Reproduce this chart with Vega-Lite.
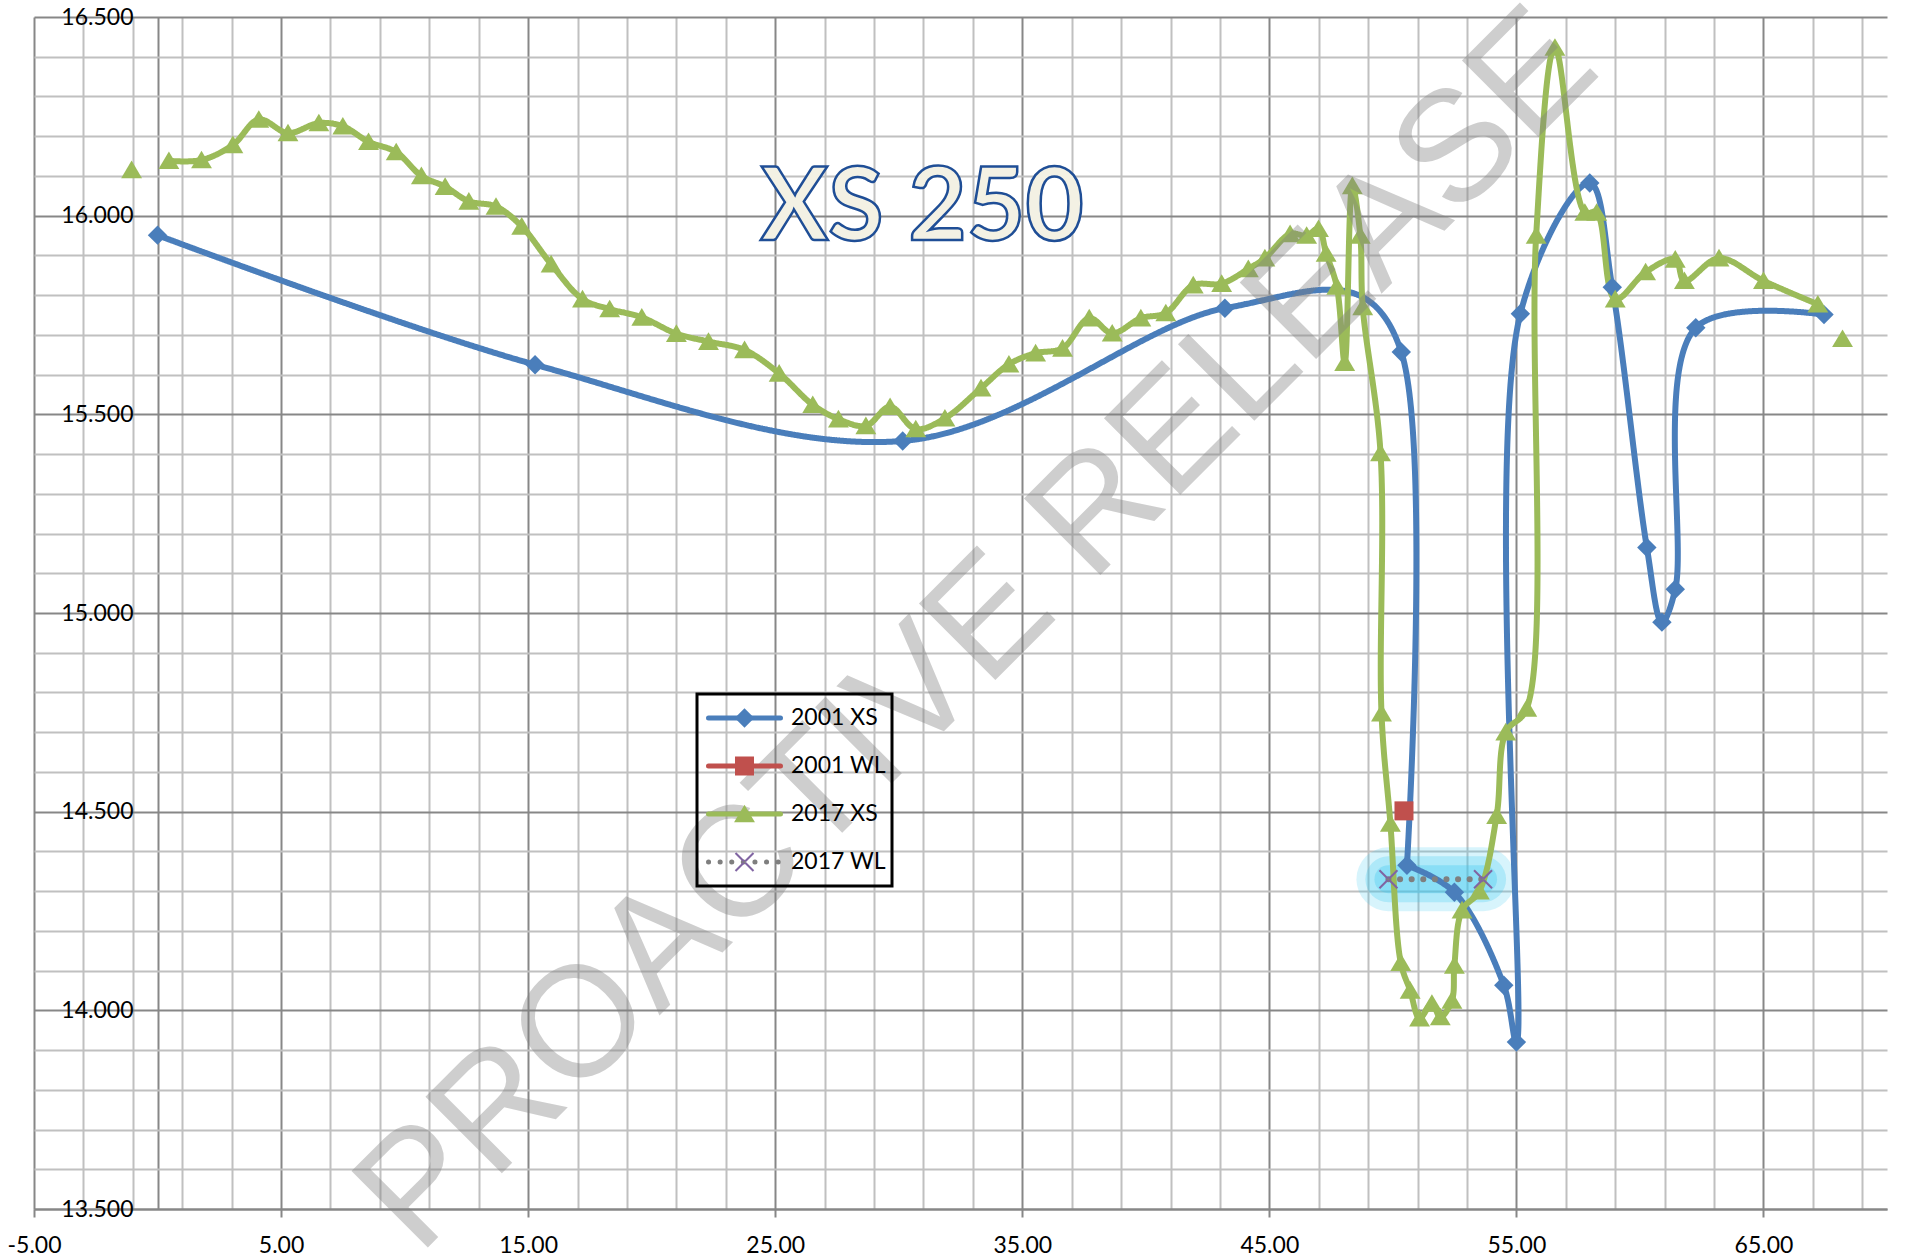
{
  "$schema": "https://vega.github.io/schema/vega-lite/v6.json",
  "width": 1853,
  "height": 1192,
  "autosize": {"type": "none"},
  "padding": {"left": 34, "top": 17, "right": 38, "bottom": 51},
  "background": "white",
  "config": {
    "view": {"stroke": null},
    "legend": {"strokeWidth": 3},
    "axis": {"labelFont": "Lato", "labelFontSize": 23, "labelColor": "black"}
  },
  "datasets": {
    "pts": [
      {"series": "2001 XS", "i": 0, "x": 0, "y": 15.951, "seg": "m"},
      {"series": "2001 XS", "i": 1, "x": 15.28, "y": 15.625, "seg": "m"},
      {"series": "2001 XS", "i": 2, "x": 30.16, "y": 15.433, "seg": "m"},
      {"series": "2001 XS", "i": 3, "x": 43.2, "y": 15.767, "seg": "m"},
      {"series": "2001 XS", "i": 4, "x": 50.34, "y": 15.657, "seg": "m"},
      {"series": "2001 XS", "i": 5, "x": 50.57, "y": 14.365, "seg": "m"},
      {"series": "2001 XS", "i": 6, "x": 52.49, "y": 14.297, "seg": "m"},
      {"series": "2001 XS", "i": 7, "x": 54.49, "y": 14.063, "seg": "m"},
      {"series": "2001 XS", "i": 8, "x": 55.0, "y": 13.92, "seg": "m"},
      {"series": "2001 XS", "i": 9, "x": 55.16, "y": 15.753, "seg": "m"},
      {"series": "2001 XS", "i": 10, "x": 57.97, "y": 16.082, "seg": "m"},
      {"series": "2001 XS", "i": 11, "x": 58.88, "y": 15.82, "seg": "m"},
      {"series": "2001 XS", "i": 12, "x": 60.28, "y": 15.165, "seg": "m"},
      {"series": "2001 XS", "i": 13, "x": 60.89, "y": 14.977, "seg": "m"},
      {"series": "2001 XS", "i": 14, "x": 61.43, "y": 15.06, "seg": "m"},
      {"series": "2001 XS", "i": 15, "x": 62.26, "y": 15.718, "seg": "m"},
      {"series": "2001 XS", "i": 16, "x": 67.45, "y": 15.751, "seg": "m"},
      {"series": "2001 WL", "i": 0, "x": 50.45, "y": 14.502, "seg": "iso"},
      {"series": "2017 XS", "i": 0, "x": -1.05, "y": 16.115, "seg": "iso"},
      {"series": "2017 XS", "i": 1, "x": 0.46, "y": 16.138, "seg": "m"},
      {"series": "2017 XS", "i": 2, "x": 1.78, "y": 16.14, "seg": "m"},
      {"series": "2017 XS", "i": 3, "x": 3.05, "y": 16.178, "seg": "m"},
      {"series": "2017 XS", "i": 4, "x": 4.1, "y": 16.242, "seg": "m"},
      {"series": "2017 XS", "i": 5, "x": 5.28, "y": 16.208, "seg": "m"},
      {"series": "2017 XS", "i": 6, "x": 6.53, "y": 16.233, "seg": "m"},
      {"series": "2017 XS", "i": 7, "x": 7.5, "y": 16.225, "seg": "m"},
      {"series": "2017 XS", "i": 8, "x": 8.54, "y": 16.186, "seg": "m"},
      {"series": "2017 XS", "i": 9, "x": 9.66, "y": 16.16, "seg": "m"},
      {"series": "2017 XS", "i": 10, "x": 10.68, "y": 16.1, "seg": "m"},
      {"series": "2017 XS", "i": 11, "x": 11.64, "y": 16.073, "seg": "m"},
      {"series": "2017 XS", "i": 12, "x": 12.6, "y": 16.036, "seg": "m"},
      {"series": "2017 XS", "i": 13, "x": 13.7, "y": 16.023, "seg": "m"},
      {"series": "2017 XS", "i": 14, "x": 14.74, "y": 15.973, "seg": "m"},
      {"series": "2017 XS", "i": 15, "x": 15.93, "y": 15.878, "seg": "m"},
      {"series": "2017 XS", "i": 16, "x": 17.2, "y": 15.79, "seg": "m"},
      {"series": "2017 XS", "i": 17, "x": 18.3, "y": 15.765, "seg": "m"},
      {"series": "2017 XS", "i": 18, "x": 19.6, "y": 15.744, "seg": "m"},
      {"series": "2017 XS", "i": 19, "x": 21.0, "y": 15.703, "seg": "m"},
      {"series": "2017 XS", "i": 20, "x": 22.3, "y": 15.683, "seg": "m"},
      {"series": "2017 XS", "i": 21, "x": 23.76, "y": 15.662, "seg": "m"},
      {"series": "2017 XS", "i": 22, "x": 25.16, "y": 15.603, "seg": "m"},
      {"series": "2017 XS", "i": 23, "x": 26.52, "y": 15.524, "seg": "m"},
      {"series": "2017 XS", "i": 24, "x": 27.56, "y": 15.488, "seg": "m"},
      {"series": "2017 XS", "i": 25, "x": 28.67, "y": 15.471, "seg": "m"},
      {"series": "2017 XS", "i": 26, "x": 29.65, "y": 15.519, "seg": "m"},
      {"series": "2017 XS", "i": 27, "x": 30.69, "y": 15.463, "seg": "m"},
      {"series": "2017 XS", "i": 28, "x": 31.87, "y": 15.49, "seg": "m"},
      {"series": "2017 XS", "i": 29, "x": 33.33, "y": 15.566, "seg": "m"},
      {"series": "2017 XS", "i": 30, "x": 34.46, "y": 15.626, "seg": "m"},
      {"series": "2017 XS", "i": 31, "x": 35.54, "y": 15.654, "seg": "m"},
      {"series": "2017 XS", "i": 32, "x": 36.63, "y": 15.666, "seg": "m"},
      {"series": "2017 XS", "i": 33, "x": 37.71, "y": 15.742, "seg": "m"},
      {"series": "2017 XS", "i": 34, "x": 38.64, "y": 15.704, "seg": "m"},
      {"series": "2017 XS", "i": 35, "x": 39.8, "y": 15.742, "seg": "m"},
      {"series": "2017 XS", "i": 36, "x": 40.81, "y": 15.755, "seg": "m"},
      {"series": "2017 XS", "i": 37, "x": 41.92, "y": 15.825, "seg": "m"},
      {"series": "2017 XS", "i": 38, "x": 43.07, "y": 15.829, "seg": "m"},
      {"series": "2017 XS", "i": 39, "x": 44.15, "y": 15.866, "seg": "m"},
      {"series": "2017 XS", "i": 40, "x": 44.82, "y": 15.893, "seg": "m"},
      {"series": "2017 XS", "i": 41, "x": 45.84, "y": 15.954, "seg": "m"},
      {"series": "2017 XS", "i": 42, "x": 46.51, "y": 15.95, "seg": "m"},
      {"series": "2017 XS", "i": 43, "x": 46.99, "y": 15.967, "seg": "m"},
      {"series": "2017 XS", "i": 44, "x": 47.3, "y": 15.905, "seg": "m"},
      {"series": "2017 XS", "i": 45, "x": 47.73, "y": 15.822, "seg": "m"},
      {"series": "2017 XS", "i": 46, "x": 48.05, "y": 15.63, "seg": "m"},
      {"series": "2017 XS", "i": 47, "x": 48.36, "y": 16.075, "seg": "m"},
      {"series": "2017 XS", "i": 48, "x": 48.68, "y": 15.95, "seg": "m"},
      {"series": "2017 XS", "i": 49, "x": 48.78, "y": 15.77, "seg": "m"},
      {"series": "2017 XS", "i": 50, "x": 49.5, "y": 15.403, "seg": "m"},
      {"series": "2017 XS", "i": 51, "x": 49.54, "y": 14.748, "seg": "m"},
      {"series": "2017 XS", "i": 52, "x": 49.9, "y": 14.47, "seg": "m"},
      {"series": "2017 XS", "i": 53, "x": 50.32, "y": 14.12, "seg": "m"},
      {"series": "2017 XS", "i": 54, "x": 50.7, "y": 14.05, "seg": "m"},
      {"series": "2017 XS", "i": 55, "x": 51.08, "y": 13.98, "seg": "m"},
      {"series": "2017 XS", "i": 56, "x": 51.58, "y": 14.017, "seg": "m"},
      {"series": "2017 XS", "i": 57, "x": 51.92, "y": 13.983, "seg": "m"},
      {"series": "2017 XS", "i": 58, "x": 52.39, "y": 14.025, "seg": "m"},
      {"series": "2017 XS", "i": 59, "x": 52.49, "y": 14.113, "seg": "m"},
      {"series": "2017 XS", "i": 60, "x": 52.8, "y": 14.252, "seg": "m"},
      {"series": "2017 XS", "i": 61, "x": 53.5, "y": 14.3, "seg": "m"},
      {"series": "2017 XS", "i": 62, "x": 54.2, "y": 14.49, "seg": "m"},
      {"series": "2017 XS", "i": 63, "x": 54.57, "y": 14.7, "seg": "m"},
      {"series": "2017 XS", "i": 64, "x": 55.42, "y": 14.76, "seg": "m"},
      {"series": "2017 XS", "i": 65, "x": 55.8, "y": 15.95, "seg": "m"},
      {"series": "2017 XS", "i": 66, "x": 56.56, "y": 16.423, "seg": "m"},
      {"series": "2017 XS", "i": 67, "x": 57.77, "y": 16.008, "seg": "m"},
      {"series": "2017 XS", "i": 68, "x": 58.25, "y": 16.008, "seg": "m"},
      {"series": "2017 XS", "i": 69, "x": 59.0, "y": 15.79, "seg": "m"},
      {"series": "2017 XS", "i": 70, "x": 60.23, "y": 15.858, "seg": "m"},
      {"series": "2017 XS", "i": 71, "x": 61.43, "y": 15.89, "seg": "m"},
      {"series": "2017 XS", "i": 72, "x": 61.8, "y": 15.836, "seg": "m"},
      {"series": "2017 XS", "i": 73, "x": 63.2, "y": 15.893, "seg": "m"},
      {"series": "2017 XS", "i": 74, "x": 65.0, "y": 15.836, "seg": "m"},
      {"series": "2017 XS", "i": 75, "x": 67.2, "y": 15.777, "seg": "m"},
      {"series": "2017 XS", "i": 76, "x": 68.2, "y": 15.69, "seg": "iso"},
      {"series": "2017 WL", "i": 0, "x": 49.82, "y": 14.33, "seg": "m"},
      {"series": "2017 WL", "i": 1, "x": 53.65, "y": 14.33, "seg": "m"}
    ]
  },
  "layer": [
    {
      "data": {"name": "pts"},
      "encoding": {
        "x": {
          "field": "x", "type": "quantitative",
          "scale": {"domain": [-5, 70], "nice": false, "zero": false},
          "axis": {
            "title": null,
            "values": [-5, -3, -1, 0, 1, 3, 5, 7, 9, 11, 13, 15, 17, 19, 21, 23, 25, 27, 29, 31, 33, 35, 37, 39, 41, 43, 45, 47, 49, 51, 53, 55, 57, 59, 61, 63, 65, 67, 69],
            "domain": true, "domainColor": "#878787", "domainWidth": 2,
            "ticks": true, "tickSize": 8, "tickWidth": 2,
            "tickColor": {"condition": {"test": "abs((datum.value+5)%10)<0.01", "value": "#878787"}, "value": "transparent"},
            "grid": true, "gridWidth": 2,
            "gridColor": {"condition": {"test": "abs((datum.value+5)%10)<0.01 || datum.value==0", "value": "#878787"}, "value": "#c0c0c0"},
            "labelExpr": "abs((datum.value+5)%10)<0.01 ? (datum.value<0?'-':'') + format(abs(datum.value),'.2f') : ''",
            "labelPadding": 17, "labelFlush": false, "labelOverlap": false
          }
        },
        "y": {
          "field": "y", "type": "quantitative",
          "scale": {"domain": [13.5, 16.5], "nice": false, "zero": false},
          "axis": {
            "title": null,
            "values": [13.5, 13.6, 13.7, 13.8, 13.9, 14.0, 14.1, 14.2, 14.3, 14.4, 14.5, 14.6, 14.7, 14.8, 14.9, 15.0, 15.1, 15.2, 15.3, 15.4, 15.5, 15.6, 15.7, 15.8, 15.9, 16.0, 16.1, 16.2, 16.3, 16.4, 16.5],
            "domain": false, "ticks": false,
            "grid": true, "gridWidth": 2,
            "gridColor": {"condition": {"test": "abs(datum.value*2-round(datum.value*2))<0.01", "value": "#878787"}, "value": "#c0c0c0"},
            "labelExpr": "abs(datum.value*2-round(datum.value*2))<0.01 ? format(datum.value,'.3f') : ''",
            "labelPadding": -99, "labelFlush": false, "labelOverlap": false, "labelBaseline": "middle"
          }
        }
      },
      "layer": [
        {
          "transform": [{"filter": "datum.series == '2017 WL'"}],
          "mark": {"type": "line", "stroke": "#35c6ef", "strokeWidth": 64, "strokeCap": "round", "opacity": 0.2},
          "encoding": {"order": {"field": "i", "type": "quantitative"}}
        },
        {
          "transform": [{"filter": "datum.series == '2017 WL'"}],
          "mark": {"type": "line", "stroke": "#35c6ef", "strokeWidth": 46, "strokeCap": "round", "opacity": 0.25},
          "encoding": {"order": {"field": "i", "type": "quantitative"}}
        },
        {
          "transform": [{"filter": "datum.series == '2017 WL'"}],
          "mark": {"type": "line", "stroke": "#35c6ef", "strokeWidth": 28, "strokeCap": "round", "opacity": 0.3},
          "encoding": {"order": {"field": "i", "type": "quantitative"}}
        },
        {
          "transform": [{"filter": "datum.series == '2001 XS' && datum.i <= 5"}],
          "mark": {"type": "line", "interpolate": "cardinal", "tension": 0, "strokeWidth": 6, "strokeCap": "round", "strokeJoin": "round"},
          "encoding": {
            "order": {"field": "i", "type": "quantitative"},
            "stroke": {
              "field": "series", "type": "nominal",
              "scale": {"domain": ["2001 XS", "2001 WL", "2017 XS", "2017 WL", "-"], "range": ["#4a7ebb", "#c0504d", "#9bbb59", "#7f7f7f", "#ffffff"]},
              "legend": {
                "values": ["2001 XS", "2001 WL", "2017 XS", "2017 WL"],
                "orient": "none", "legendX": 663, "legendY": 677, "title": null,
                "padding": 6, "strokeColor": "black", "clipHeight": 36, "rowPadding": 12,
                "symbolType": "stroke", "symbolSize": 5184, "symbolStrokeWidth": 5, "symbolOffset": 3,
                "labelOffset": 8, "labelFont": "Lato", "labelFontSize": 23, "labelColor": "black",
                "labelExpr": "datum.label + '\u00a0\u00a0\u00a0'",
                "encoding": {"symbols": {"strokeCap": {"value": "round"}}}
              }
            },
            "strokeDash": {
              "field": "series", "type": "nominal",
              "scale": {"domain": ["2001 XS", "2001 WL", "2017 XS", "2017 WL", "-"], "range": [[1, 0], [1, 0], [1, 0], [0.1, 11.5], [1, 0]]},
              "legend": {
                "values": ["2001 XS", "2001 WL", "2017 XS", "2017 WL"],
                "orient": "none", "legendX": 663, "legendY": 677, "title": null,
                "padding": 6, "strokeColor": "black", "clipHeight": 36, "rowPadding": 12,
                "symbolType": "stroke", "symbolSize": 5184, "symbolStrokeWidth": 5, "symbolOffset": 3,
                "labelOffset": 8, "labelFont": "Lato", "labelFontSize": 23, "labelColor": "black",
                "labelExpr": "datum.label + '\u00a0\u00a0\u00a0'",
                "encoding": {"symbols": {"strokeCap": {"value": "round"}}}
              }
            }
          }
        },
        {
          "transform": [{"filter": "datum.seg == 'm' && !(datum.series == '2001 XS' && datum.i < 5)"}],
          "mark": {"type": "line", "interpolate": "catmull-rom", "strokeWidth": 6, "strokeCap": "round", "strokeJoin": "round"},
          "encoding": {
            "order": {"field": "i", "type": "quantitative"},
            "stroke": {
              "field": "series", "type": "nominal",
              "scale": {"domain": ["2001 XS", "2001 WL", "2017 XS", "2017 WL", "-"], "range": ["#4a7ebb", "#c0504d", "#9bbb59", "#7f7f7f", "#ffffff"]},
              "legend": {
                "values": ["2001 XS", "2001 WL", "2017 XS", "2017 WL"],
                "orient": "none", "legendX": 663, "legendY": 677, "title": null,
                "padding": 6, "strokeColor": "black", "clipHeight": 36, "rowPadding": 12,
                "symbolType": "stroke", "symbolSize": 5184, "symbolStrokeWidth": 5, "symbolOffset": 3,
                "labelOffset": 8, "labelFont": "Lato", "labelFontSize": 23, "labelColor": "black",
                "labelExpr": "datum.label + '\u00a0\u00a0\u00a0'",
                "encoding": {"symbols": {"strokeCap": {"value": "round"}}}
              }
            },
            "strokeDash": {
              "field": "series", "type": "nominal",
              "scale": {"domain": ["2001 XS", "2001 WL", "2017 XS", "2017 WL", "-"], "range": [[1, 0], [1, 0], [1, 0], [0.1, 11.5], [1, 0]]},
              "legend": {
                "values": ["2001 XS", "2001 WL", "2017 XS", "2017 WL"],
                "orient": "none", "legendX": 663, "legendY": 677, "title": null,
                "padding": 6, "strokeColor": "black", "clipHeight": 36, "rowPadding": 12,
                "symbolType": "stroke", "symbolSize": 5184, "symbolStrokeWidth": 5, "symbolOffset": 3,
                "labelOffset": 8, "labelFont": "Lato", "labelFontSize": 23, "labelColor": "black",
                "labelExpr": "datum.label + '\u00a0\u00a0\u00a0'",
                "encoding": {"symbols": {"strokeCap": {"value": "round"}}}
              }
            }
          }
        },
        {
          "mark": {"type": "point", "filled": true, "size": 5184, "opacity": 1, "strokeWidth": 0},
          "encoding": {
            "fill": {
              "field": "series", "type": "nominal",
              "scale": {"domain": ["2001 XS", "2001 WL", "2017 XS", "2017 WL"], "range": ["#4a7ebb", "#c0504d", "#9bbb59", "#8064a2"]},
              "legend": {
                "orient": "none", "legendX": 663, "legendY": 677, "title": null,
                "padding": 6, "clipHeight": 36, "rowPadding": 12,
                "symbolSize": 5184, "symbolStrokeWidth": 0, "symbolOffset": 5.5, "symbolOpacity": 1,
                "labelOffset": 8, "labelFont": "Lato", "labelFontSize": 23, "labelOpacity": 0,
                "labelExpr": "datum.label + '\u00a0\u00a0\u00a0'"
              }
            },
            "shape": {
              "field": "series", "type": "nominal",
              "scale": {"domain": ["2001 XS", "2001 WL", "2017 XS", "2017 WL"], "range": [
                "M0,-0.27L0.27,0L0,0.27L-0.27,0Z",
                "M-0.264,-0.264H0.264V0.264H-0.264Z",
                "M0,-0.26L0.29,0.23L-0.29,0.23Z",
                "M-0.27,-0.23L-0.23,-0.27L0.27,0.23L0.23,0.27Z M-0.27,0.23L-0.23,0.27L0.27,-0.23L0.23,-0.27Z"
              ]},
              "legend": {
                "orient": "none", "legendX": 663, "legendY": 677, "title": null,
                "padding": 6, "clipHeight": 36, "rowPadding": 12,
                "symbolSize": 5184, "symbolStrokeWidth": 0, "symbolOffset": 5.5, "symbolOpacity": 1,
                "labelOffset": 8, "labelFont": "Lato", "labelFontSize": 23, "labelOpacity": 0,
                "labelExpr": "datum.label + '\u00a0\u00a0\u00a0'"
              }
            }
          }
        }
      ]
    },
    {
      "data": {"values": [{"t": "XS 250"}]},
      "mark": {"type": "text", "font": "Lato", "fontWeight": "bold", "fontSize": 101, "fill": "#f3f1e4", "stroke": "#1f4e96", "strokeWidth": 2.5, "align": "center", "baseline": "alphabetic"},
      "encoding": {
        "text": {"field": "t", "type": "nominal"},
        "x": {
          "datum": 30.95, "type": "quantitative",
          "scale": {"domain": [-5, 70], "nice": false, "zero": false},
          "axis": {
            "title": null,
            "values": [-5, -3, -1, 0, 1, 3, 5, 7, 9, 11, 13, 15, 17, 19, 21, 23, 25, 27, 29, 31, 33, 35, 37, 39, 41, 43, 45, 47, 49, 51, 53, 55, 57, 59, 61, 63, 65, 67, 69],
            "domain": true, "domainColor": "#878787", "domainWidth": 2,
            "ticks": true, "tickSize": 8, "tickWidth": 2,
            "tickColor": {"condition": {"test": "abs((datum.value+5)%10)<0.01", "value": "#878787"}, "value": "transparent"},
            "grid": true, "gridWidth": 2,
            "gridColor": {"condition": {"test": "abs((datum.value+5)%10)<0.01 || datum.value==0", "value": "#878787"}, "value": "#c0c0c0"},
            "labelExpr": "abs((datum.value+5)%10)<0.01 ? (datum.value<0?'-':'') + format(abs(datum.value),'.2f') : ''",
            "labelPadding": 17, "labelFlush": false, "labelOverlap": false
          }
        },
        "y": {
          "datum": 15.939, "type": "quantitative",
          "scale": {"domain": [13.5, 16.5], "nice": false, "zero": false},
          "axis": {
            "title": null,
            "values": [13.5, 13.6, 13.7, 13.8, 13.9, 14.0, 14.1, 14.2, 14.3, 14.4, 14.5, 14.6, 14.7, 14.8, 14.9, 15.0, 15.1, 15.2, 15.3, 15.4, 15.5, 15.6, 15.7, 15.8, 15.9, 16.0, 16.1, 16.2, 16.3, 16.4, 16.5],
            "domain": false, "ticks": false,
            "grid": true, "gridWidth": 2,
            "gridColor": {"condition": {"test": "abs(datum.value*2-round(datum.value*2))<0.01", "value": "#878787"}, "value": "#c0c0c0"},
            "labelExpr": "abs(datum.value*2-round(datum.value*2))<0.01 ? format(datum.value,'.3f') : ''",
            "labelPadding": -99, "labelFlush": false, "labelOverlap": false, "labelBaseline": "middle"
          }
        }
      }
    },
    {
      "data": {"values": [{"t": "PROACTIVE RELEASE"}]},
      "mark": {"type": "text", "font": "Liberation Sans", "fontSize": 157, "angle": 315, "fill": "#808080", "opacity": 0.38, "align": "center", "baseline": "middle"},
      "encoding": {
        "text": {"field": "t", "type": "nominal"},
        "x": {
          "datum": 33.2, "type": "quantitative",
          "scale": {"domain": [-5, 70], "nice": false, "zero": false},
          "axis": {
            "title": null,
            "values": [-5, -3, -1, 0, 1, 3, 5, 7, 9, 11, 13, 15, 17, 19, 21, 23, 25, 27, 29, 31, 33, 35, 37, 39, 41, 43, 45, 47, 49, 51, 53, 55, 57, 59, 61, 63, 65, 67, 69],
            "domain": true, "domainColor": "#878787", "domainWidth": 2,
            "ticks": true, "tickSize": 8, "tickWidth": 2,
            "tickColor": {"condition": {"test": "abs((datum.value+5)%10)<0.01", "value": "#878787"}, "value": "transparent"},
            "grid": true, "gridWidth": 2,
            "gridColor": {"condition": {"test": "abs((datum.value+5)%10)<0.01 || datum.value==0", "value": "#878787"}, "value": "#c0c0c0"},
            "labelExpr": "abs((datum.value+5)%10)<0.01 ? (datum.value<0?'-':'') + format(abs(datum.value),'.2f') : ''",
            "labelPadding": 17, "labelFlush": false, "labelOverlap": false
          }
        },
        "y": {
          "datum": 14.955, "type": "quantitative",
          "scale": {"domain": [13.5, 16.5], "nice": false, "zero": false},
          "axis": {
            "title": null,
            "values": [13.5, 13.6, 13.7, 13.8, 13.9, 14.0, 14.1, 14.2, 14.3, 14.4, 14.5, 14.6, 14.7, 14.8, 14.9, 15.0, 15.1, 15.2, 15.3, 15.4, 15.5, 15.6, 15.7, 15.8, 15.9, 16.0, 16.1, 16.2, 16.3, 16.4, 16.5],
            "domain": false, "ticks": false,
            "grid": true, "gridWidth": 2,
            "gridColor": {"condition": {"test": "abs(datum.value*2-round(datum.value*2))<0.01", "value": "#878787"}, "value": "#c0c0c0"},
            "labelExpr": "abs(datum.value*2-round(datum.value*2))<0.01 ? format(datum.value,'.3f') : ''",
            "labelPadding": -99, "labelFlush": false, "labelOverlap": false, "labelBaseline": "middle"
          }
        }
      }
    }
  ]
}
